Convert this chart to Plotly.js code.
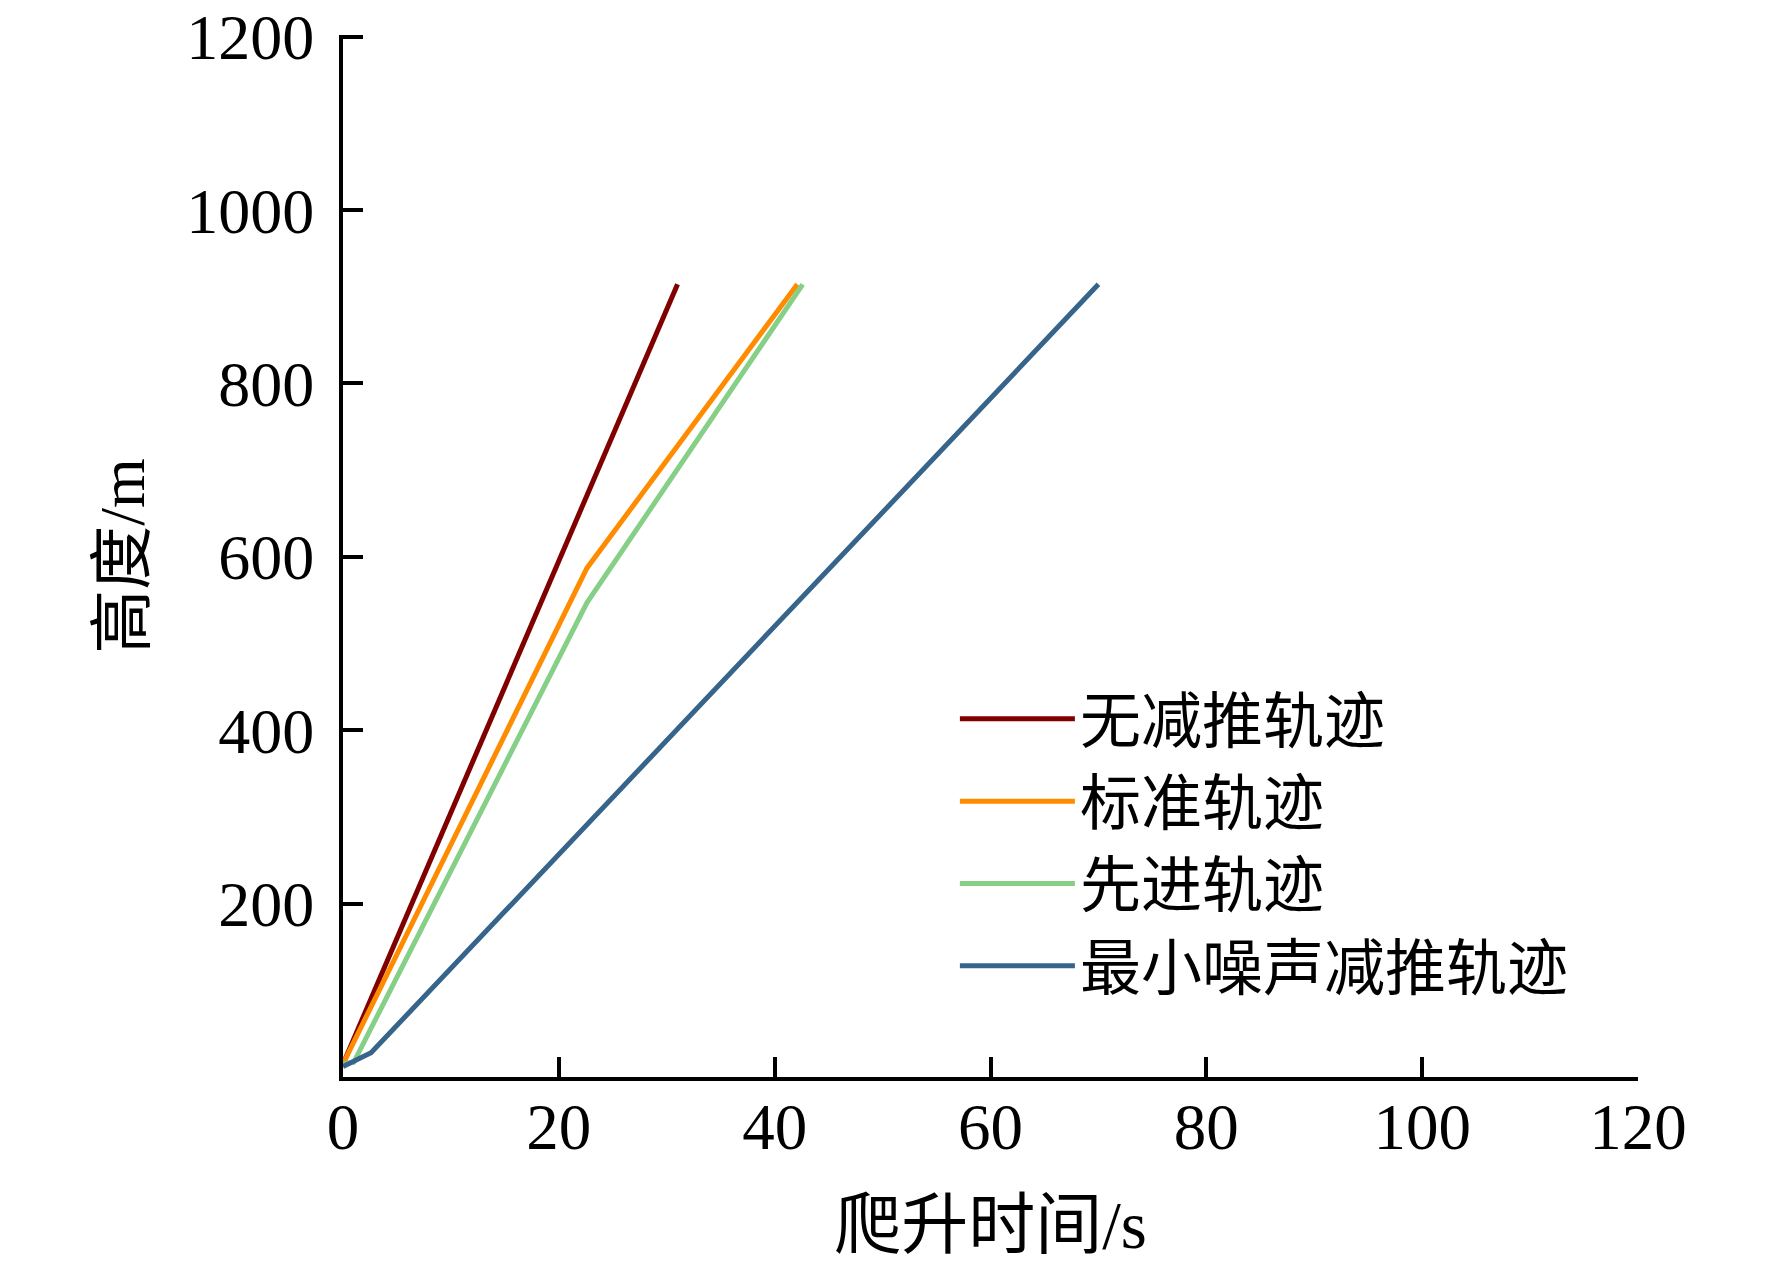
<!DOCTYPE html>
<html>
<head>
<meta charset="utf-8">
<script src="https://cdn.plot.ly/plotly-3.0.1.min.js"></script>
<style>html,body{margin:0;padding:0;background:#fff;}#chart{width:1772px;height:1271px;}</style>
</head>
<body>
<div id="chart"></div>
<script>
// Series names
const seriesNames = ['无减推轨迹', '标准轨迹', '先进轨迹', '最小噪声减推轨迹'];
// Climb time (s) and altitude (m) per series
const tNoCutback = [0, 31.0];
const hNoCutback = [15, 914.4];
const tStandard = [0, 22.6, 42.1];
const hStandard = [15, 587, 914.4];
const tAdvanced = [0, 1.0, 22.6, 42.6];
const hAdvanced = [15, 17, 547, 914.4];
const tMinNoise = [0, 2.6, 70.0];
const hMinNoise = [12, 28, 914.4];
// Tick labels
const xTicks = [0, 20, 40, 60, 80, 100, 120];
const yTicks = [200, 400, 600, 800, 1000, 1200];

const colors = ['#800000', '#ff8c00', '#86cf86', '#36648b'];
const FONT = "'Liberation Serif', 'Noto Sans CJK SC', serif";

const xs = [tNoCutback, tStandard, tAdvanced, tMinNoise];
const ys = [hNoCutback, hStandard, hAdvanced, hMinNoise];

const traces = seriesNames.map((name, i) => ({
  x: xs[i], y: ys[i], name: name, type: 'scatter', mode: 'lines',
  line: {color: colors[i], width: 5}
}));

const layout = {
  width: 1772, height: 1271,
  margin: {l: 343, r: 134, t: 35, b: 194, pad: 0},
  paper_bgcolor: '#fff', plot_bgcolor: '#fff',
  font: {family: FONT, size: 64, color: '#000'},
  showlegend: true,
  legend: {
    x: 0.4725, y: 0.388, xanchor: 'left', yanchor: 'top',
    bgcolor: 'rgba(0,0,0,0)', borderwidth: 0,
    font: {family: FONT, size: 61, color: '#000'},
    itemwidth: 115, tracegroupgap: 0
  },
  xaxis: {
    range: [0, 120], tickvals: xTicks, ticktext: xTicks.map(String),
    showline: true, linecolor: '#000', linewidth: 4,
    ticks: 'inside', ticklen: 20, tickwidth: 4, tickcolor: '#000',
    showgrid: false, zeroline: false,
    tickfont: {family: FONT, size: 65},
    ticklabelstandoff: -10, ticklabeloverflow: 'allow',
    title: {text: '爬升时间/s', font: {family: FONT, size: 67}, standoff: 40},
    automargin: false
  },
  yaxis: {
    range: [0, 1202], tickvals: yTicks, ticktext: yTicks.map(String),
    showline: true, linecolor: '#000', linewidth: 4,
    ticks: 'inside', ticklen: 20, tickwidth: 4, tickcolor: '#000',
    showgrid: false, zeroline: false,
    tickfont: {family: FONT, size: 64},
    ticklabelstandoff: 12, ticklabeloverflow: 'allow',
    title: {text: '高度/m', font: {family: FONT, size: 64}, standoff: 22},
    automargin: false
  }
};

Plotly.newPlot('chart', traces, layout, {staticPlot: true, displayModeBar: false});
</script>
</body>
</html>
